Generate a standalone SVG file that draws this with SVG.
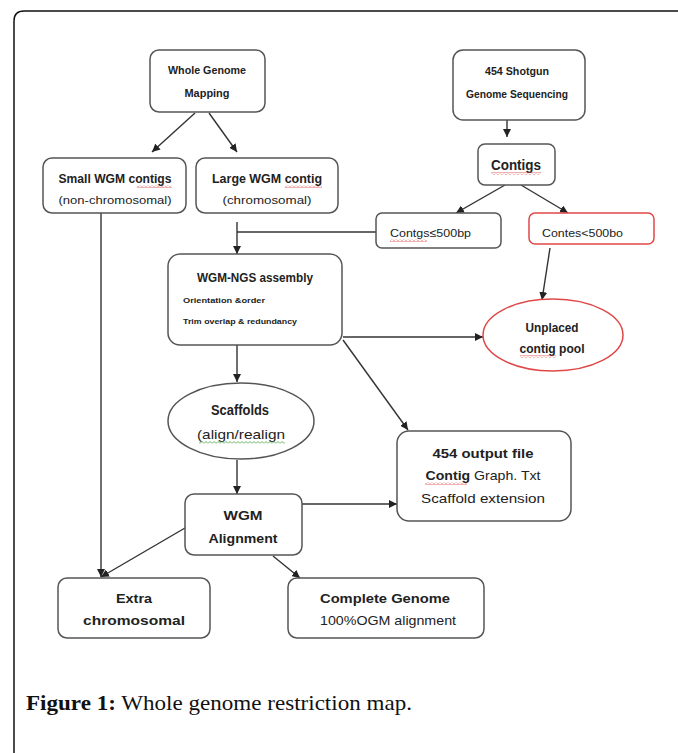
<svg xmlns="http://www.w3.org/2000/svg" width="678" height="753" viewBox="0 0 678 753">
<style>
.box{fill:#fff;stroke:#555;stroke-width:1.5}
.red{fill:#fff;stroke:#e04848;stroke-width:1.5}
.t{font-family:"Liberation Sans",Arial,sans-serif;fill:#222;text-anchor:middle}
.b{font-weight:bold}
.s{text-anchor:start}
.c{fill:none;stroke:#333;stroke-width:1.4}
.cap{font-family:"Liberation Serif","Times New Roman",serif;fill:#111;font-size:22px}
</style>
<defs>
<marker id="ah" viewBox="0 0 10 10" refX="10" refY="5" markerWidth="8" markerHeight="8" markerUnits="userSpaceOnUse" orient="auto">
<path d="M0,0 L10,5 L0,10 z" fill="#222"/>
</marker>
<pattern id="sqR" width="4" height="3" patternUnits="userSpaceOnUse"><path d="M0,2.5 L2,0.5 L4,2.5" fill="none" stroke="#e03a3a" stroke-width="0.8"/></pattern>
<pattern id="sqG" width="4" height="3" patternUnits="userSpaceOnUse"><path d="M0,2.5 L2,0.5 L4,2.5" fill="none" stroke="#3aa03a" stroke-width="0.8"/></pattern>
</defs>
<rect width="678" height="753" fill="#fff"/>
<path d="M14,753 V21 Q14,11 24,11 H678" fill="none" stroke="#111" stroke-width="1.5"/>

<g id="connectors">
<line class="c" x1="195" y1="113" x2="152" y2="152" marker-end="url(#ah)"/>
<line class="c" x1="209" y1="113" x2="237" y2="152" marker-end="url(#ah)"/>
<line class="c" x1="507" y1="120" x2="507" y2="137" marker-end="url(#ah)"/>
<line class="c" x1="505" y1="185" x2="456" y2="213" marker-end="url(#ah)"/>
<line class="c" x1="521" y1="185" x2="568" y2="213" marker-end="url(#ah)"/>
<line class="c" x1="376" y1="232" x2="237" y2="232"/>
<line class="c" x1="237" y1="222" x2="237" y2="254" marker-end="url(#ah)"/>
<line class="c" x1="550" y1="248" x2="542" y2="300" marker-end="url(#ah)"/>
<line class="c" x1="343" y1="337" x2="483" y2="337" marker-end="url(#ah)"/>
<line class="c" x1="343" y1="340" x2="408" y2="430" marker-end="url(#ah)"/>
<line class="c" x1="237" y1="345" x2="237" y2="382" marker-end="url(#ah)"/>
<line class="c" x1="237" y1="460" x2="237" y2="494" marker-end="url(#ah)"/>
<line class="c" x1="302" y1="504" x2="397" y2="504" marker-end="url(#ah)"/>
<line class="c" x1="185" y1="528" x2="101" y2="577" marker-end="url(#ah)"/>
<line class="c" x1="101" y1="213" x2="101" y2="577" marker-end="url(#ah)"/>
<line class="c" x1="273" y1="556" x2="300" y2="578" marker-end="url(#ah)"/>
</g>

<g id="wgm-mapping">
<rect class="box" x="150" y="50" width="115" height="62" rx="9"/>
<text class="t b" x="207" y="74" font-size="10" textLength="78" lengthAdjust="spacingAndGlyphs">Whole Genome</text>
<text class="t b" x="207" y="97" font-size="10" textLength="45" lengthAdjust="spacingAndGlyphs">Mapping</text>
</g>

<g id="shotgun">
<rect class="box" x="453" y="50" width="132" height="70" rx="10"/>
<text class="t b" x="517" y="75" font-size="10" textLength="64" lengthAdjust="spacingAndGlyphs">454 Shotgun</text>
<text class="t b" x="517" y="98" font-size="10" textLength="102" lengthAdjust="spacingAndGlyphs">Genome Sequencing</text>
</g>

<g id="small-wgm">
<rect class="box" x="43" y="158" width="143" height="55" rx="9"/>
<text class="t b" x="115" y="183" font-size="12" textLength="113" lengthAdjust="spacingAndGlyphs">Small WGM contigs</text>
<text class="t" x="115" y="204" font-size="11.5" textLength="113" lengthAdjust="spacingAndGlyphs">(non-chromosomal)</text>
<rect x="137" y="185" width="35" height="3" fill="url(#sqR)"/>
</g>

<g id="large-wgm">
<rect class="box" x="196" y="158" width="142" height="55" rx="9"/>
<text class="t b" x="267" y="183" font-size="12" textLength="110" lengthAdjust="spacingAndGlyphs">Large WGM contig</text>
<text class="t" x="267" y="204" font-size="11.5" textLength="89" lengthAdjust="spacingAndGlyphs">(chromosomal)</text>
<rect x="285" y="185" width="37" height="3" fill="url(#sqR)"/>
</g>

<g id="contigs">
<rect class="box" x="478" y="144" width="77" height="41" rx="7"/>
<text class="t b" x="516" y="170" font-size="14" textLength="50" lengthAdjust="spacingAndGlyphs">Contigs</text>
<rect x="491" y="172" width="50" height="3" fill="url(#sqR)"/>
</g>

<g id="contigs-le500">
<rect class="box" x="376" y="213" width="125" height="35" rx="6"/>
<text class="t s" x="390" y="237" font-size="11.5" textLength="81" lengthAdjust="spacingAndGlyphs">Contgs≤500bp</text>
<rect x="390" y="239" width="37" height="3" fill="url(#sqR)"/>
</g>

<g id="contigs-lt500">
<rect class="red" x="529" y="213" width="125" height="31" rx="6"/>
<text class="t s" x="542" y="237" font-size="11.5" textLength="81" lengthAdjust="spacingAndGlyphs">Contes&lt;500bo</text>
</g>

<g id="wgm-ngs">
<rect class="box" x="168" y="254" width="174" height="91" rx="12"/>
<text class="t b" x="255" y="282" font-size="12" textLength="116" lengthAdjust="spacingAndGlyphs">WGM-NGS assembly</text>
<text class="t b s" x="183" y="303" font-size="7.5" textLength="82" lengthAdjust="spacingAndGlyphs">Orientation &amp;order</text>
<text class="t b s" x="183" y="324" font-size="7.5" textLength="114" lengthAdjust="spacingAndGlyphs">Trim overlap &amp; redundancy</text>
</g>

<g id="unplaced">
<ellipse class="red" cx="553" cy="335" rx="70" ry="36"/>
<text class="t b" x="552" y="332" font-size="12" textLength="53" lengthAdjust="spacingAndGlyphs">Unplaced</text>
<text class="t b" x="552" y="353" font-size="12" textLength="65" lengthAdjust="spacingAndGlyphs">contig pool</text>
<rect x="520" y="355" width="36" height="3" fill="url(#sqR)"/>
</g>

<g id="scaffolds">
<ellipse class="box" cx="241" cy="421" rx="73" ry="38"/>
<text class="t b" x="240" y="415" font-size="14" textLength="58" lengthAdjust="spacingAndGlyphs">Scaffolds</text>
<text class="t" x="241" y="439" font-size="13" textLength="88" lengthAdjust="spacingAndGlyphs">(align/realign</text>
<rect x="199" y="441" width="86" height="3" fill="url(#sqG)"/>
</g>

<g id="output-file">
<rect class="box" x="397" y="431" width="174" height="90" rx="12"/>
<text class="t b" x="483" y="458" font-size="13" textLength="101" lengthAdjust="spacingAndGlyphs">454 output file</text>
<text class="t" x="483" y="480" font-size="13" textLength="115" lengthAdjust="spacingAndGlyphs"><tspan font-weight="bold">Contig</tspan> Graph. Txt</text>
<text class="t" x="483" y="503" font-size="13" textLength="124" lengthAdjust="spacingAndGlyphs">Scaffold extension</text>
<rect x="425" y="482" width="42" height="3" fill="url(#sqR)"/>
</g>

<g id="wgm-alignment">
<rect class="box" x="185" y="494" width="117" height="61" rx="9"/>
<text class="t b" x="243" y="520" font-size="13" textLength="39" lengthAdjust="spacingAndGlyphs">WGM</text>
<text class="t b" x="243" y="543" font-size="13" textLength="69" lengthAdjust="spacingAndGlyphs">Alignment</text>
</g>

<g id="extra-chromosomal">
<rect class="box" x="58" y="578" width="152" height="60" rx="9"/>
<text class="t b" x="134" y="603" font-size="13" textLength="36" lengthAdjust="spacingAndGlyphs">Extra</text>
<text class="t b" x="134" y="625" font-size="13" textLength="102" lengthAdjust="spacingAndGlyphs">chromosomal</text>
</g>

<g id="complete-genome">
<rect class="box" x="288" y="578" width="196" height="60" rx="9"/>
<text class="t b" x="385" y="603" font-size="13" textLength="130" lengthAdjust="spacingAndGlyphs">Complete Genome</text>
<text class="t" x="388" y="625" font-size="13" textLength="136" lengthAdjust="spacingAndGlyphs">100%OGM alignment</text>
</g>

<g id="caption">
<text class="cap" x="26" y="710" textLength="386" lengthAdjust="spacingAndGlyphs"><tspan font-weight="bold">Figure 1:</tspan> Whole genome restriction map.</text>
</g>
</svg>
